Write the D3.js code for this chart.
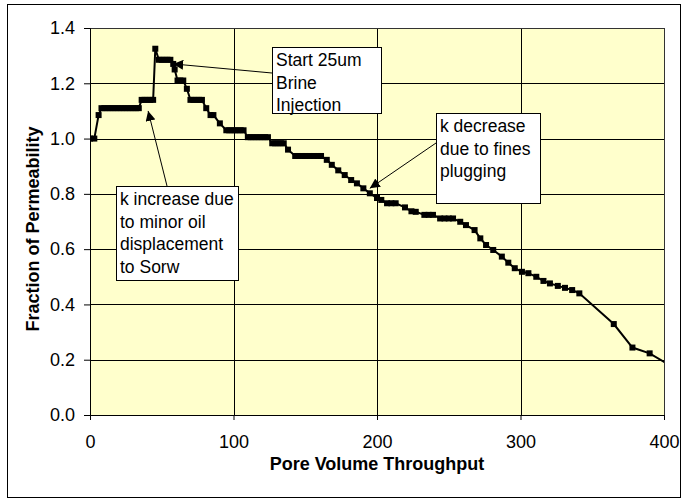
<!DOCTYPE html>
<html>
<head>
<meta charset="utf-8">
<script src="https://cdn.jsdelivr.net/npm/d3@7"></script>
<style>
  body { margin: 0; background: #fff; }
  text { font-family: "Liberation Sans", Arial, sans-serif; }
</style>
</head>
<body>
<div id="chart-container"></div>
<script>
// Pore volume throughput vs fraction of permeability
const poreVolume = [0, 3, 6, 8, 10, 12, 14, 16, 18, 20, 22, 24, 26, 28, 30, 32, 34,
  36, 38, 40, 42, 44, 45.5, 48, 50, 52, 54, 56, 58, 59, 61, 63, 65, 67.5,
  70, 72, 74, 76, 78, 81, 84, 86, 90.5, 95, 97, 99, 101, 103, 105, 107,
  110, 112, 114, 116, 118, 120, 122, 124, 127, 129, 131, 133, 135,
  138, 143, 145, 148, 150, 153, 156, 159, 161, 165, 168.5, 173, 177.5, 182, 186,
  190.5, 195, 200, 203, 207, 210, 213, 219.5, 224, 227, 233, 236, 239,
  244, 247, 250, 253, 258, 262, 268, 272, 276, 281, 287, 291.5, 296,
  301, 305.5, 311, 316, 320.5, 326, 331, 336, 341, 365, 378, 390, 404];
const permFraction = [1.0, 1.0, 1.085, 1.11, 1.11, 1.11, 1.11, 1.11, 1.11, 1.11, 1.11, 1.11, 1.11, 1.11, 1.11, 1.11, 1.11,
  1.14, 1.14, 1.14, 1.14, 1.14, 1.325, 1.285, 1.285, 1.285, 1.285, 1.285, 1.27, 1.25, 1.21, 1.21, 1.21, 1.18,
  1.14, 1.14, 1.14, 1.14, 1.14, 1.11, 1.085, 1.085, 1.055, 1.03, 1.03, 1.03, 1.03, 1.03, 1.03, 1.03,
  1.005, 1.005, 1.005, 1.005, 1.005, 1.005, 1.005, 1.005, 0.983, 0.983, 0.983, 0.983, 0.983,
  0.96, 0.937, 0.937, 0.937, 0.937, 0.937, 0.937, 0.937, 0.937, 0.923, 0.905, 0.885, 0.868, 0.85, 0.838,
  0.82, 0.802, 0.785, 0.778, 0.766, 0.766, 0.766, 0.751, 0.737, 0.735, 0.724, 0.724, 0.724,
  0.711, 0.711, 0.711, 0.711, 0.699, 0.687, 0.669, 0.639, 0.615, 0.597, 0.573, 0.551, 0.531,
  0.518, 0.513, 0.5, 0.485, 0.476, 0.467, 0.46, 0.452, 0.44, 0.329, 0.244, 0.223, 0.18];

const xTicks = [0, 100, 200, 300, 400];
const yTicks = [0, 0.2, 0.4, 0.6, 0.8, 1.0, 1.2, 1.4];

// callout text, one list of lines per box
const noteLines = [
  ["Start 25um", "Brine", "Injection"],
  ["k decrease", "due to fines", "plugging"],
  ["k increase due", "to minor oil", "displacement", "to Sorw"]
];

const width = 688, height = 499;
const margin = { top: 28, right: 24, bottom: 84, left: 90 };
const plotW = width - margin.left - margin.right;
const plotH = height - margin.top - margin.bottom;

const svg = d3.select("#chart-container").append("svg")
  .attr("width", width)
  .attr("height", height);

// outer chart border
svg.append("rect")
  .attr("x", 7.5).attr("y", 4.5)
  .attr("width", 673).attr("height", 493)
  .attr("fill", "#fff")
  .attr("stroke", "#000")
  .attr("stroke-width", 1);

const x = d3.scaleLinear().domain([0, 400]).range([0, plotW]);
const y = d3.scaleLinear().domain([0, 1.4]).range([plotH, 0]);

const g = svg.append("g").attr("transform", `translate(${margin.left},${margin.top})`);

g.append("rect")
  .attr("width", plotW).attr("height", plotH)
  .attr("fill", "#ffffcc");

// gridlines
g.selectAll(".hgrid").data(yTicks).enter().append("line")
  .attr("x1", 0).attr("x2", plotW)
  .attr("y1", d => Math.round(y(d)) + 0.5).attr("y2", d => Math.round(y(d)) + 0.5)
  .attr("stroke", "#000").attr("stroke-width", 1);
g.selectAll(".vgrid").data(xTicks).enter().append("line")
  .attr("y1", 0).attr("y2", plotH)
  .attr("x1", d => Math.round(x(d)) + 0.5).attr("x2", d => Math.round(x(d)) + 0.5)
  .attr("stroke", "#000").attr("stroke-width", 1);

g.append("rect")
  .attr("x", 0.5).attr("y", 0.5)
  .attr("width", plotW).attr("height", plotH)
  .attr("fill", "none")
  .attr("stroke", "#333");

// axes
const xAxis = g.append("g")
  .attr("transform", `translate(0,${plotH})`)
  .call(d3.axisBottom(x).tickValues(xTicks).tickSize(5).tickPadding(15).tickFormat(d3.format("d")));
const yAxis = g.append("g")
  .call(d3.axisLeft(y).tickValues(yTicks).tickSize(6).tickPadding(9).tickFormat(d3.format(".1f")));
[xAxis, yAxis].forEach(a => {
  a.select(".domain").attr("stroke", "#000");
  a.selectAll("line").attr("stroke", "#000");
  a.selectAll("text").attr("font-size", 18).attr("fill", "#000")
    .attr("font-family", "'Liberation Sans', Arial, sans-serif");
});

// clip for the series
svg.append("defs").append("clipPath").attr("id", "plot-clip")
  .append("rect").attr("width", plotW).attr("height", plotH);

const pts = poreVolume.map((v, i) => [v, permFraction[i]]);
const series = g.append("g").attr("clip-path", "url(#plot-clip)");
series.append("path")
  .datum(pts)
  .attr("fill", "none")
  .attr("stroke", "#000")
  .attr("stroke-width", 2)
  .attr("d", d3.line().x(d => x(d[0])).y(d => y(d[1])));
series.selectAll(".marker").data(pts).enter().append("rect")
  .attr("x", d => x(d[0]) - 3)
  .attr("y", d => y(d[1]) - 3)
  .attr("width", 6).attr("height", 6)
  .attr("fill", "#000");

// axis titles
svg.append("text")
  .attr("x", margin.left + plotW / 2)
  .attr("y", 470)
  .attr("text-anchor", "middle")
  .attr("font-size", 18).attr("font-weight", "bold")
  .text("Pore Volume Throughput");
svg.append("text")
  .attr("transform", "translate(39,229) rotate(-90)")
  .attr("text-anchor", "middle")
  .attr("font-size", 18).attr("font-weight", "bold")
  .text("Fraction of Permeability");

// callouts (box positions in pixels, arrow tips at data points)
const boxes = [
  { x: 272, y: 47, w: 109, h: 66, tail: [272, 73], tip: [58, 1.27] },
  { x: 436, y: 113, w: 104, h: 90, tail: [436, 143], tip: [195, 0.82] },
  { x: 116, y: 186, w: 122, h: 94, tail: [167, 186], tip: [40.5, 1.10] }
];

const defs = svg.select("defs");
defs.append("marker")
  .attr("id", "arrowhead")
  .attr("viewBox", "0 0 10 10")
  .attr("refX", 10).attr("refY", 5)
  .attr("markerWidth", 10).attr("markerHeight", 10)
  .attr("markerUnits", "userSpaceOnUse")
  .attr("orient", "auto")
  .append("path").attr("d", "M0,0 L10,5 L0,10 Z").attr("fill", "#000");

boxes.forEach((b, i) => {
  svg.append("line")
    .attr("x1", b.tail[0]).attr("y1", b.tail[1])
    .attr("x2", margin.left + x(b.tip[0])).attr("y2", margin.top + y(b.tip[1]))
    .attr("stroke", "#000").attr("stroke-width", 1)
    .attr("marker-end", "url(#arrowhead)");
  svg.append("rect")
    .attr("x", b.x + 0.5).attr("y", b.y + 0.5)
    .attr("width", b.w).attr("height", b.h)
    .attr("fill", "#fff").attr("stroke", "#000");
  const t = svg.append("text")
    .attr("font-size", 17.5).attr("fill", "#000");
  noteLines[i].forEach((line, j) => {
    t.append("tspan")
      .attr("x", b.x + 4)
      .attr("y", b.y + 19 + j * 22.7)
      .text(line);
  });
});
</script>
</body>
</html>
